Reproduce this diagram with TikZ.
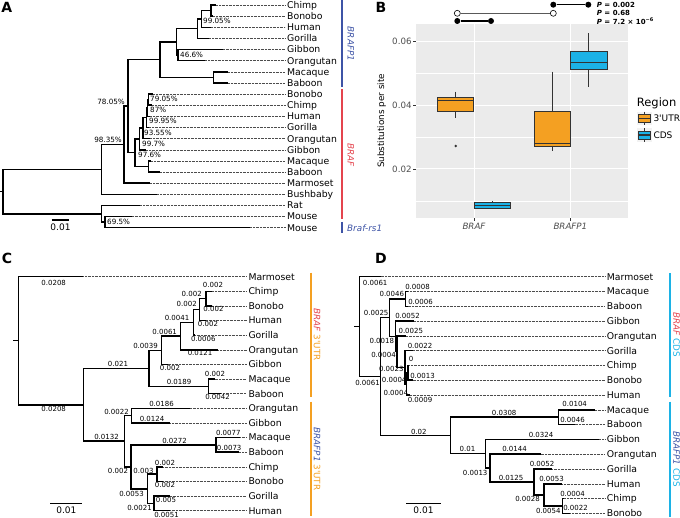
\documentclass[tikz,border=0pt]{standalone}
\usepackage{fontspec}
\setmainfont{DejaVu Sans}
\usetikzlibrary{positioning}
\definecolor{bluePI}{RGB}{62,84,166}
\definecolor{redBR}{RGB}{228,68,78}
\definecolor{utrOr}{RGB}{244,160,34}
\definecolor{cdsCy}{RGB}{28,178,230}
\definecolor{panelGr}{RGB}{235,235,235}
\definecolor{keyGr}{RGB}{242,242,242}
\definecolor{axGr}{RGB}{77,77,77}

\begin{document}
\begin{tikzpicture}[x=1pt, y=-1pt,
  br/.style={line width=1.5pt, line join=miter},
  dots/.style={line width=0.5pt, black!70, dash pattern=on 0.6pt off 0.8pt, shorten >=1.8pt},
  leaf/.style={anchor=west, inner sep=0pt, text height=6.8pt, text depth=0pt,
               font=\fontsize{9.3}{10}\selectfont},
  bl/.style={inner sep=0pt, text height=5.1pt, text depth=0pt, font=\fontsize{7}{8}\selectfont},
  supp/.style={inner sep=0pt, text height=5.2pt, text depth=0pt, font=\fontsize{7.2}{8}\selectfont},
  panel/.style={inner sep=0pt, font=\fontsize{14}{14}\selectfont\bfseries},
  clade/.style={line width=2pt},
  cladelab/.style={inner sep=0pt, font=\fontsize{8.8}{10}\selectfont},
  sbar/.style={line width=1.3pt},
  sbarlab/.style={inner sep=0pt, font=\fontsize{9}{10}\selectfont},
  gridmaj/.style={white, line width=1pt},
  gridmin/.style={white, line width=0.5pt},
  tickmk/.style={draw=black!80, line width=0.5pt},
  ticklab/.style={inner sep=0pt, text=axGr, font=\fontsize{8.7}{10}\selectfont},
  boxst/.style={draw=black!80, line width=0.55pt},
  medst/.style={draw=black!80, line width=1.3pt},
  whisk/.style={draw=black!80, line width=0.55pt},
  pdot/.style={circle, fill=black, inner sep=0pt, minimum size=6pt},
  podot/.style={circle, draw=black, fill=white, line width=0.6pt, inner sep=0pt, minimum size=6pt},
  pline/.style={line width=1.1pt},
  pval/.style={anchor=west, inner sep=0pt, font=\fontsize{7}{8}\selectfont\bfseries}
]
\useasboundingbox (0,0) rectangle (680,518);

% ========== PANEL A: BRAF / BRAFP1 / Braf-rs1 tree ==========
\node[panel] (pA) at (6.7,7.2) {A};

\foreach \i/\nm/\tx in {0/Chimp/216, 1/Bonobo/213, 2/Human/211, 3/Gorilla/209,
    4/Gibbon/222.7, 5/Orangutan/205, 6/Macaque/228, 7/Baboon/228,
    8/Bonobo/153, 9/Chimp/152, 10/Human/150, 11/Gorilla/149, 12/Orangutan/150,
    13/Gibbon/146, 14/Macaque/151, 15/Baboon/160, 16/Marmoset/150,
    17/Bushbaby/157, 18/Rat/140, 19/Mouse/131.7, 20/Mouse/250}{
  \coordinate (aT\i) at (\tx,{5+11.135*\i});
  \node[leaf] (aL\i) at (287,{5+11.135*\i}) {\nm};
  \draw[dots] (aT\i) -- (aL\i.west);
}

\foreach \nd/\xx/\yy/\ca/\cb in {
    aCB1/211/10.55/aT0/aT1, aCBH1/201.7/18.9/aCB1/aT2, aHA1/197.7/28.65/aCBH1/aT3,
    aGO1/178/55.1/aT4/aT5, aHOM1/176.7/41.9/aHA1/aGO1, aMB1/213.3/77.35/aT6/aT7,
    aP1/160/59.6/aHOM1/aMB1,
    aCB2/148.3/99.65/aT8/aT9, aCBH2/147.5/108/aCB2/aT10, aHA2/146.5/117.75/aCBH2/aT11,
    aHO2/143/128.2/aHA2/aT12, aHOG2/139.5/139/aHO2/aT13, aMB2/148.3/166.45/aT14/aT15,
    aB2/135/152.7/aHOG2/aMB2,
    aS78/128/106.15/aP1/aB2, aM/124/144.7/aS78/aT16, aS98/101.7/169.5/aM/aT17,
    aMM/105/222.15/aT19/aT20, aRod/101.7/213.8/aT18/aMM,
    aRoot/3/191.65/aS98/aRod}{
  \coordinate (\nd) at (\xx,\yy);
  \draw[br] (\ca) -| (\nd) |- (\cb);
}
\coordinate (a0) at (0,191.65);
\draw[br] (a0) -- (aRoot);

% support values
\foreach \an/\xx/\yy/\t [count=\k] in {west/203/21/99.05, west/180/55/46.6,
    west/150/99/79.05, west/150/110/87, west/149/121/99.95, west/144/133/93.55,
    west/142/144/99.7, west/138/155/97.6, east/125/102/78.05, east/122/140/98.35,
    west/107/221.5/69.5}{
  \node[supp, anchor=\an] (sA\k) at (\xx,\yy) {\t\%};
}

% scale bar
\coordinate (aSa) at (51.7,220);
\coordinate (aSb) at (69.3,220);
\draw[sbar] (aSa) -- (aSb);
\node[sbarlab] (aSl) at (60.5,226.8) {0.01};

% clade bars
\draw[clade, bluePI] (341.7,0) -- (341.7,86.7);
\draw[clade, redBR] (341.7,89.5) -- (341.7,219);
\draw[clade, bluePI] (341.7,222) -- (341.7,233);
\node[cladelab, rotate=-90, text=bluePI] (aC1) at (350.8,44) {\itshape BRAFP1};
\node[cladelab, rotate=-90, text=redBR] (aC2) at (350.8,155) {\itshape BRAF};
\node[cladelab, anchor=west, text=bluePI] (aC3) at (347,228.5) {\itshape Braf-rs1};

% ========== PANEL B: boxplot ==========
\node[panel] (pB) at (381,7.5) {B};

\fill[panelGr] (416,24) rectangle (628.3,218.3);
\foreach \yy in {200.85,137.15,73.45} \draw[gridmin] (416,\yy) -- (628.3,\yy);
\foreach \yy in {169,105.3,41.6} \draw[gridmaj] (416,\yy) -- (628.3,\yy);
\foreach \xx in {474,570.4} \draw[gridmaj] (\xx,24) -- (\xx,218.3);

\foreach \yy/\t [count=\k] in {169/0.02, 105.3/0.04, 41.6/0.06}{
  \draw[tickmk] (413.3,\yy) -- (416,\yy);
  \node[ticklab, anchor=east] (yt\k) at (411.8,\yy) {\t};
}
\foreach \xx in {474,570.4} \draw[tickmk] (\xx,218.3) -- (\xx,221);
\node[ticklab, anchor=north] (xt1) at (474,223) {\itshape BRAF};
\node[ticklab, anchor=north] (xt2) at (570.4,223) {\itshape BRAFP1};
\node[inner sep=0pt, rotate=90, font=\fontsize{8.8}{10}\selectfont] (ytit) at (381.7,121)
  {Substitutions per site};

% boxes: centre / whisker top / Q3 / median / Q1 / whisker bottom / colour
\foreach \cx/\wt/\qa/\md/\qb/\wb/\col in {
    455.4/91.7/97.7/100.7/111/118.3/utrOr, 492.4/201/202.7/205.7/208.3/209.3/cdsCy,
    552.5/71.7/111.7/143.3/146/151/utrOr, 588.7/33.3/51.7/62.3/69.3/87.3/cdsCy}{
  \draw[whisk] (\cx,\wt) -- (\cx,\qa) (\cx,\qb) -- (\cx,\wb);
  \draw[boxst, fill=\col] ({\cx-18.1},\qa) rectangle ({\cx+18.1},\qb);
  \draw[medst] ({\cx-18.1},\md) -- ({\cx+18.1},\md);
}
\fill[black!80] (455.7,146) circle[radius=1.3pt];

% significance rows
\node[pdot] (q1a) at (553.3,4.7) {};
\node[pdot] (q1b) at (588.3,4.7) {};
\draw[pline] (q1a) -- (q1b);
\node[podot] (q2a) at (457.3,13.3) {};
\node[podot] (q2b) at (553.3,13.3) {};
\draw[line width=0.8pt, black!65] (q2a) -- (q2b);
\node[pdot] (q3a) at (457.3,21) {};
\node[pdot] (q3b) at (491,21) {};
\draw[pline] (q3a) -- (q3b);
\node[pval] (pv1) at (596.7,4.5) {\textit{P} = 0.002};
\node[pval] (pv2) at (596.7,12.8) {\textit{P} = 0.68};
\node[pval] (pv3) at (596.7,21) {\textit{P} = 7.2 × 10\textsuperscript{−6}};

% legend
\node[inner sep=0pt, anchor=west, font=\fontsize{11.5}{12}\selectfont] (leg) at (636.7,103) {Region};
\foreach \yy/\col/\t [count=\k] in {118.5/utrOr/3\textquotesingle UTR, 135/cdsCy/CDS}{
  \fill[keyGr] (636.7,{\yy-6.8}) rectangle (651.7,{\yy+6.8});
  \draw[whisk] (644.2,{\yy-6.8}) -- (644.2,{\yy+6.8});
  \draw[boxst, fill=\col] (638.3,{\yy-4}) rectangle (650.1,{\yy+4});
  \draw[medst] (638.3,\yy) -- (650.1,\yy);
  \node[inner sep=0pt, anchor=west, font=\fontsize{9}{10}\selectfont] (lk\k) at (653.3,\yy) {\t};
}

% ========== PANEL C: 3'UTR tree ==========
\node[panel] (pC) at (7,258.5) {C};

\foreach \i/\nm/\tx in {0/Marmoset/83.4, 1/Chimp/212.04, 2/Bonobo/212.04, 3/Human/205.78,
    4/Gorilla/195.14, 5/Orangutan/218.3, 6/Gibbon/167.6, 7/Macaque/214.55,
    8/Baboon/221.44, 9/Orangutan/189.83, 10/Gibbon/170.42, 11/Macaque/240.22,
    12/Baboon/238.97, 13/Chimp/163.22, 14/Bonobo/163.22, 15/Gorilla/169.79,
    16/Human/170.1}{
  \coordinate (cT\i) at (\tx,{276.7+14.625*\i});
  \node[leaf] (cL\i) at (248.3,{276.7+14.625*\i}) {\nm};
  \draw[dots] (cT\i) -- (cL\i.west);
}

\foreach \nd/\xx/\yy/\ca/\cb in {
    cCB/205.78/298.63/cT1/cT2, cN2/199.52/309.6/cCB/cT3, cN41/193.26/322.4/cN2/cT4,
    cN61/180.43/336.1/cN41/cT5, cNB1/161.34/350.3/cN61/cT6, cMB/208.29/386.4/cT7/cT8,
    cNB/149.13/368.35/cNB1/cMB,
    cOG/131.61/415.6/cT9/cT10, cMB2/216.12/444.9/cT11/cT12, cCB2/156.96/474.1/cT13/cT14,
    cGH/154.14/503.4/cT15/cT16, cGA/147.57/488.75/cCB2/cGH, cNX/130.98/466.8/cMB2/cGA,
    cNP/124.72/441.2/cOG/cNX,
    cN1/83.4/404.8/cNB/cNP, cRoot/18.3/340.75/cT0/cN1}{
  \coordinate (\nd) at (\xx,\yy);
  \draw[br] (\ca) -| (\nd) |- (\cb);
}
\coordinate (c0) at (13.3,340.75);
\draw[br] (c0) -- (cRoot);

% branch lengths
\foreach \xx/\yy/\t [count=\k] in {53.7/283.3/0.0208, 53.7/409/0.0208, 118/364.2/0.021,
    106.5/437/0.0132, 145.5/345.5/0.0039, 164.7/331.5/0.0061, 177/317.5/0.0041,
    186.7/304.2/0.002, 191.7/293.5/0.002, 213/285.2/0.002, 213.5/309.2/0.002,
    208/323.5/0.002, 203.3/339.2/0.0006, 200/353.3/0.0121, 170/367.5/0.002,
    179/381.5/0.0189, 215/374.2/0.002, 217.5/396.5/0.0042, 116.5/411.5/0.0022,
    161.5/403.5/0.0186, 152/419/0.0124, 118/471/0.002, 174.5/440.5/0.0272,
    228.3/433.3/0.0077, 229.2/448.3/0.0073, 131.5/494/0.0053, 143.5/470.5/0.003,
    165/462.5/0.002, 165/485/0.002, 139.5/508/0.0021, 166/500/0.005,
    166.5/515/0.0051}{
  \node[bl] (cB\k) at (\xx,\yy) {\t};
}

\coordinate (cSa) at (50.3,503.3);
\coordinate (cSb) at (82.3,503.3);
\draw[sbar] (cSa) -- (cSb);
\node[sbarlab] (cSl) at (66.3,510) {0.01};

\draw[clade, utrOr] (311,272.7) -- (311,396.7);
\draw[clade, utrOr] (311,401.7) -- (311,516);
\node[cladelab, rotate=-90] (cC1) at (317,334.7)
  {\textcolor{redBR}{\itshape BRAF} \textcolor{utrOr}{3\textquotesingle UTR}};
\node[cladelab, rotate=-90] (cC2) at (317,459)
  {\textcolor{bluePI}{\itshape BRAFP1} \textcolor{utrOr}{3\textquotesingle UTR}};

% ========== PANEL D: CDS tree ==========
\node[panel] (pD) at (381,258.5) {D};

\foreach \i/\nm/\tx in {0/Marmoset/380.65, 1/Macaque/408.3, 2/Baboon/407.6,
    3/Gibbon/413.9, 4/Orangutan/405.85, 5/Gorilla/412.85, 6/Chimp/407.95,
    7/Bonobo/412.5, 8/Human/409.7, 9/Macaque/594.85, 10/Baboon/574.55,
    11/Gibbon/599.05, 12/Orangutan/540.6, 13/Gorilla/552.15, 14/Human/562.3,
    15/Chimp/564.05, 16/Bonobo/570.35}{
  \coordinate (dT\i) at (\tx,{276.7+14.79*\i});
  \node[leaf] (dL\i) at (606.7,{276.7+14.79*\i}) {\nm};
  \draw[dots] (dT\i) -- (dL\i.west);
}

\foreach \nd/\xx/\yy/\ca/\cb in {
    dMB/405.5/298.9/dT1/dT2, dCB/407.95/372.8/dT6/dT7, dND/406.55/383.9/dCB/dT8,
    dNC/405.15/367.3/dT5/dND, dNB/397.1/351.6/dT4/dNC, dNA/395.7/336.35/dT3/dNB,
    dR/389.4/317.6/dMB/dNA,
    dMB2/558.45/417.2/dT9/dT10, dNu/562.65/505.9/dT15/dT16, dNt/543.75/494.8/dT14/dNu,
    dNs/533.95/481.9/dT13/dNt, dNr/490.2/468.05/dT12/dNs, dNq/485.65/453.7/dT11/dNr,
    dNp/450.65/435.45/dMB2/dNq,
    dN1/380.65/376.5/dR/dNp, dRoot/359.3/326.6/dT0/dN1}{
  \coordinate (\nd) at (\xx,\yy);
  \draw[br] (\ca) -| (\nd) |- (\cb);
}
\coordinate (d0) at (354.3,326.6);
\draw[br] (d0) -- (dRoot);

\foreach \xx/\yy/\t [count=\k] in {375.2/283.3/0.0061, 391.8/293.5/0.0046,
    417.5/286.8/0.0008, 420.5/302.2/0.0006, 376.2/312.5/0.0025, 407.5/315.8/0.0052,
    410.8/331.2/0.0025, 381.8/340.5/0.0018, 420/345.8/0.0022, 383.5/354.5/0.0004,
    411/359.2/0, 391.3/368.8/0.0023, 422.5/375.8/0.0013, 394.2/380.3/0.0004,
    367.5/383/0.0061, 395.8/392.5/0.0004, 420/400/0.0009, 418.8/431.5/0.02,
    504.2/412.5/0.0308, 574.7/404.2/0.0104, 572.5/419.5/0.0046, 541/434.5/0.0324,
    467.5/449.2/0.01, 514.5/449.2/0.0144, 475.2/472.8/0.0013, 511/477.5/0.0125,
    542/463.5/0.0052, 551.5/479.2/0.0053, 527.5/498.8/0.0028, 572.5/494.2/0.0004,
    548.3/511.2/0.0054, 575.5/507.8/0.0022}{
  \node[bl] (dB\k) at (\xx,\yy) {\t};
}

\coordinate (dSa) at (406,503.3);
\coordinate (dSb) at (441,503.3);
\draw[sbar] (dSa) -- (dSb);
\node[sbarlab] (dSl) at (423.5,510) {0.01};

\draw[clade, cdsCy] (670,273.3) -- (670,396.7);
\draw[clade, cdsCy] (670,401.7) -- (670,517);
\node[cladelab, rotate=-90] (dC1) at (676.5,335)
  {\textcolor{redBR}{\itshape BRAF} \textcolor{cdsCy}{CDS}};
\node[cladelab, rotate=-90] (dC2) at (676.5,459)
  {\textcolor{bluePI}{\itshape BRAFP1} \textcolor{cdsCy}{CDS}};

\end{tikzpicture}
\end{document}
